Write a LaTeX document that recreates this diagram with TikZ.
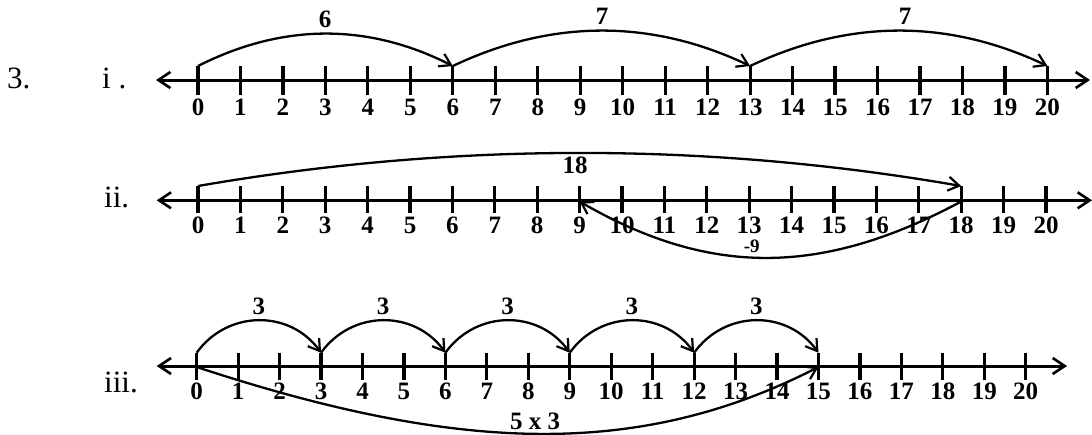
\documentclass[tikz,border=0pt]{standalone}
\usepackage{fontspec}
\setmainfont{Liberation Serif}
\usetikzlibrary{arrows.meta}
\begin{document}
\begin{tikzpicture}[x=1pt,y=-1pt,
  axisline/.style={line width=3pt, {Straight Barb[length=12pt,width=16pt,line width=2.6pt]}-{Straight Barb[length=12pt,width=16pt,line width=2.6pt]}},
  tickmark/.style={line width=3.2pt},
  num/.style={font=\fontsize{25}{28}\selectfont\bfseries, inner sep=0pt},
  smallnum/.style={font=\fontsize{19}{22}\selectfont\bfseries, inner sep=0pt},
  jump/.style={line width=2.3pt, -{Straight Barb[length=11pt,width=14pt,line width=2.2pt]}},
  rowlab/.style={font=\fontsize{31}{34}\selectfont, inner sep=0pt, anchor=base west},
]
\useasboundingbox (0,0) rectangle (1092,434);

% row labels
\node[rowlab] (q3) at (7,88) {3.};
\node[rowlab] (ri) at (102,88) {i .};
\node[rowlab] (rii) at (104,207) {ii.};
\node[rowlab] (riii) at (104,392) {iii.};

% ---------- row i ----------
\coordinate (AL) at (156,80);
\coordinate (AR) at (1090,80);
\draw[axisline] (AL) -- (AR);
\foreach \i in {0,...,20} {
  \coordinate (A\i) at ({198+42.47*\i},66);
  \coordinate (Ab\i) at ({198+42.47*\i},95);
  \draw[tickmark] (A\i) -- (Ab\i);
  \node[num] (LA\i) at ({198+42.47*\i},107.5) {\i};
}
\draw[jump] (A0) .. controls +(85,-43) and +(-85,-43) .. (A6);
\draw[jump] (A6) .. controls +(99,-47) and +(-99,-47) .. (A13);
\draw[jump] (A13) .. controls +(99,-47) and +(-99,-47) .. (A20);
\node[num] (JA1) at (325,19) {6};
\node[num] (JA2) at (602,16) {7};
\node[num] (JA3) at (905,16) {7};

% ---------- row ii ----------
\coordinate (BL) at (156.7,200.3);
\coordinate (BR) at (1092,200.3);
\draw[axisline] (BL) -- (BR);
\foreach \i in {0,...,20} {
  \coordinate (B\i) at ({198+42.4*\i},186);
  \coordinate (Bb\i) at ({198+42.4*\i},213.3);
  \coordinate (Bm\i) at ({198+42.4*\i},201.5);
  \draw[tickmark] (B\i) -- (Bb\i);
  \node[num] (LB\i) at ({198+42.4*\i},225.5) {\i};
}
\draw[jump] (B0) .. controls +(254,-44) and +(-254,-44) .. (B18);
\draw[jump] (Bm18) .. controls +(-140,75) and +(130,75) .. (Bm9);
\node[num] (JB1) at (575,165) {18};
\node[smallnum] (JB2) at (751.7,246.5) {-9};

% ---------- row iii ----------
\coordinate (CL) at (156.7,366);
\coordinate (CR) at (1067,366);
\draw[axisline] (CL) -- (CR);
\foreach \i in {0,...,20} {
  \coordinate (C\i) at ({196.7+41.45*\i},352.7);
  \coordinate (Cb\i) at ({196.7+41.45*\i},380);
  \coordinate (Cm\i) at ({196.7+41.45*\i},367);
  \draw[tickmark] (C\i) -- (Cb\i);
  \node[num] (LC\i) at ({196.7+41.45*\i},391) {\i};
}
\foreach \a/\b [evaluate=\a as \m using {196.7+41.45*(\a+1.5)}] in {0/3,3/6,6/9,9/12,12/15} {
  \draw[jump] (C\a) .. controls +(31,-43) and +(-31,-43) .. (C\b);
  \node[num] (JC\a) at (\m,306.7) {3};
}
\draw[jump] (Cm0) .. controls +(270,89) and +(-175,89) .. (Cm15);
\node[num] (JC15) at (535,421.7) {5 x 3};
\end{tikzpicture}
\end{document}
